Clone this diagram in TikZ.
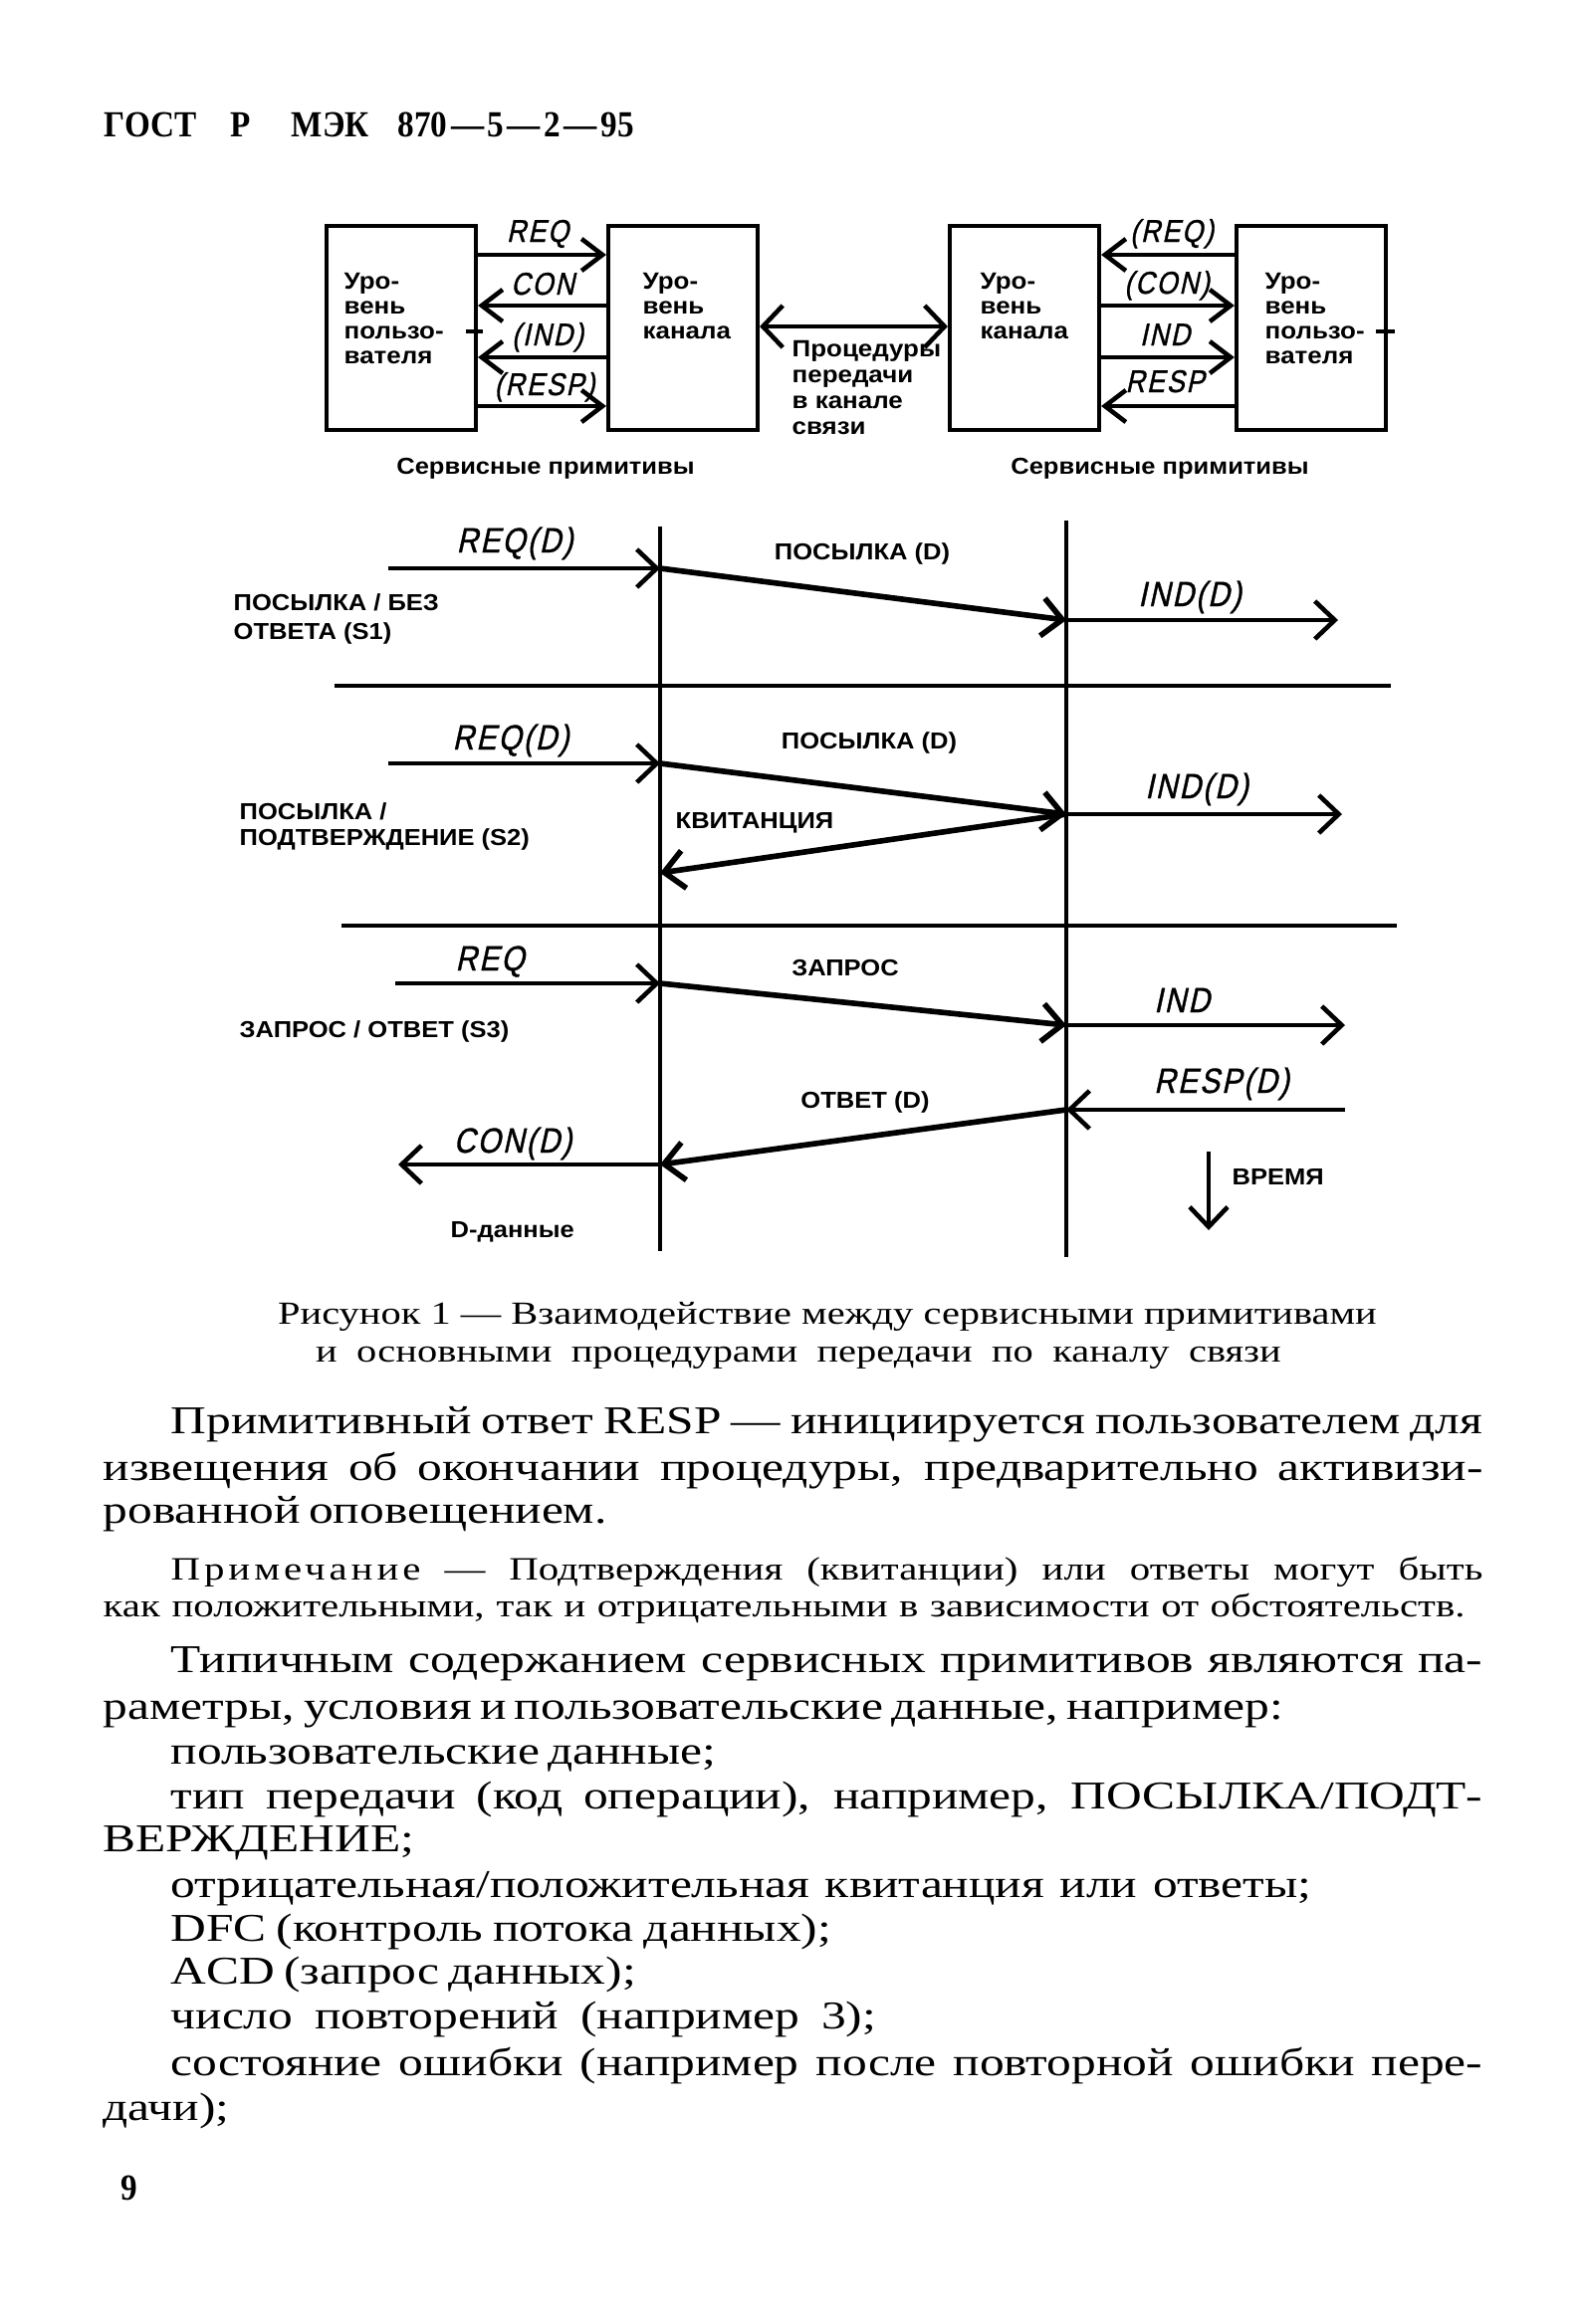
\documentclass[tikz,border=0pt]{standalone}
\usepackage{fontspec}
\setmainfont{Liberation Serif}
\newfontfamily\bodyf[FakeStretch=1.25]{Liberation Serif}
\newfontfamily\spacedf[FakeStretch=1.25,LetterSpace=12]{Liberation Serif}
\newfontfamily\titlef[FakeStretch=0.9]{Liberation Serif}
\newfontfamily\labf[FakeStretch=1.1]{Liberation Sans}
\newfontfamily\techf[FakeSlant=0.22,FakeStretch=0.85,FakeBold=1,LetterSpace=6]{Liberation Sans}
\usetikzlibrary{arrows.meta,calc}
\newcommand{\bodysz}{\fontsize{11.25pt}{12pt}\selectfont}
\newcommand{\notesz}{\fontsize{9.3pt}{10pt}\selectfont}
\newcommand{\capsz}{\fontsize{9.2pt}{10pt}\selectfont}
\newcommand{\jl}[2]{\makebox[#1][s]{#2}}
\begin{document}
\begin{tikzpicture}[x=0.01cm,y=-0.01cm,
  boxnode/.style={draw, line width=1.15pt, inner sep=0pt, minimum width=1.5cm, minimum height=2.05cm},
  conn/.style={line width=1.3pt, -{Straight Barb[length=0.21cm,width=0.32cm]}},
  dconn/.style={line width=1.3pt, {Straight Barb[length=0.2cm,width=0.42cm]}-{Straight Barb[length=0.2cm,width=0.42cm]}},
  tickmark/.style={line width=1.1pt},
  life/.style={line width=1.0pt},
  sarrow/.style={line width=1.3pt, -{Straight Barb[length=0.2cm,width=0.38cm]}},
  darrow/.style={line width=1.6pt, -{Straight Barb[length=0.2cm,width=0.38cm]}},
  sepline/.style={line width=1.4pt},
  bt/.style={anchor=base west, inner sep=0pt, font=\labf\bfseries\fontsize{6.7pt}{7pt}\selectfont},
  lt/.style={anchor=base west, inner sep=0pt, font=\labf\bfseries\fontsize{6.6pt}{7pt}\selectfont},
  ltc/.style={anchor=base, inner sep=0pt, font=\labf\bfseries\fontsize{6.6pt}{7pt}\selectfont},
  tls/.style={anchor=base, inner sep=0pt, font=\techf\fontsize{9pt}{10pt}\selectfont},
  tl/.style={anchor=base, inner sep=0pt, font=\techf\fontsize{10pt}{11pt}\selectfont},
  ttl/.style={anchor=base west, inner sep=0pt, font=\titlef\bfseries\fontsize{10.5pt}{11pt}\selectfont},
  body/.style={anchor=base west, inner sep=0pt, font=\bodyf\bodysz},
  note/.style={anchor=base west, inner sep=0pt, font=\bodyf\notesz},
  capt/.style={anchor=base, inner sep=0pt, font=\bodyf\capsz}
]
\fill[white] (0,0) rectangle (1588,2335);
\useasboundingbox (0,0) rectangle (1588,2335);

% ---- header
\node[ttl] (h1) at (104,137) {ГОСТ};
\node[ttl] (h2) at (231,137) {Р};
\node[ttl] (h3) at (292,137) {МЭК};
\node[ttl] (h4) at (399,137) {870\kern1pt—\kern1pt5\kern1pt—\kern1pt2\kern1pt—\kern1pt95};

% ---- top block diagram
\node[boxnode] (uL) at (403,329.5) {};
\node[boxnode] (cL) at (686,329.5) {};
\node[boxnode] (cR) at (1029,329.5) {};
\node[boxnode] (uR) at (1317,329.5) {};

\node[bt] (uLa) at (345,290) {Уро-};
\node[bt] (uLb) at (345,315) {вень};
\node[bt] (uLc) at (345,340) {пользо-};
\node[bt] (uLd) at (345,365) {вателя};
\node[bt] (cLa) at (645,290) {Уро-};
\node[bt] (cLb) at (645,315) {вень};
\node[bt] (cLc) at (645,340) {канала};
\node[bt] (cRa) at (984,290) {Уро-};
\node[bt] (cRb) at (984,315) {вень};
\node[bt] (cRc) at (984,340) {канала};
\node[bt] (uRa) at (1270,290) {Уро-};
\node[bt] (uRb) at (1270,315) {вень};
\node[bt] (uRc) at (1270,340) {пользо-};
\node[bt] (uRd) at (1270,365) {вателя};

\node[bt] (pr1) at (795,358) {Процедуры};
\node[bt] (pr2) at (795,384) {передачи};
\node[bt] (pr3) at (795,410) {в канале};
\node[bt] (pr4) at (795,436) {связи};

\coordinate (r1) at (0,256);
\coordinate (r2) at (0,307);
\coordinate (r3) at (0,359);
\coordinate (r4) at (0,408);
\coordinate (rm) at (0,328);
\coordinate (tk) at (0,333);

\draw[conn] (uL.east |- r1) -- (cL.west |- r1);
\draw[conn] (cL.west |- r2) -- (uL.east |- r2);
\draw[conn] (cL.west |- r3) -- (uL.east |- r3);
\draw[conn] (uL.east |- r4) -- (cL.west |- r4);
\draw[conn] (uR.west |- r1) -- (cR.east |- r1);
\draw[conn] (cR.east |- r2) -- (uR.west |- r2);
\draw[conn] (cR.east |- r3) -- (uR.west |- r3);
\draw[conn] (uR.west |- r4) -- (cR.east |- r4);
\draw[dconn] (cL.east |- rm) -- (cR.west |- rm);

\draw[tickmark] ($(uL.east |- tk)+(-12,0)$) -- ($(uL.east |- tk)+(5,0)$);
\draw[tickmark] ($(uR.east |- tk)+(-12,0)$) -- ($(uR.east |- tk)+(7,0)$);

\node[tls] (lREQ) at (540,243) {REQ};
\node[tls] (lCON) at (545,296) {CON};
\node[tls] (lIND) at (550,347) {(IND)};
\node[tls] (lRESP) at (547,397) {(RESP)};
\node[tls] (rREQ) at (1177,243) {(REQ)};
\node[tls] (rCON) at (1172,295) {(CON)};
\node[tls] (rIND) at (1170,347) {IND};
\node[tls] (rRESP) at (1170,394) {RESP};

\node[ltc] (sp1) at (548,476) {Сервисные примитивы};
\node[ltc] (sp2) at (1165,476) {Сервисные примитивы};

% ---- sequence diagram
\coordinate (L1t) at (663,529);
\coordinate (L1b) at (663,1257);
\coordinate (L2t) at (1071,523);
\coordinate (L2b) at (1071,1263);
\draw[life] (L1t) -- (L1b);
\draw[life] (L2t) -- (L2b);

% S1
\coordinate (a1) at (390,571);
\coordinate (b1) at (663,571);
\coordinate (c1) at (1071,623);
\coordinate (d1) at (1344,623);
\draw[sarrow] (a1) -- (b1);
\draw[darrow] (b1) -- (c1);
\draw[sarrow] (c1) -- (d1);
\node[tl] (q1) at (517,555) {REQ(D)};
\node[ltc] (p1) at (866,562) {ПОСЫЛКА (D)};
\node[tl] (i1) at (1195,609) {IND(D)};
\node[lt] (s1a) at (234,613) {ПОСЫЛКА / БЕЗ};
\node[lt] (s1b) at (234,642) {ОТВЕТА (S1)};
\coordinate (e1a) at (336,689);
\coordinate (e1b) at (1397,689);
\draw[sepline] (e1a) -- (e1b);

% S2
\coordinate (a2) at (390,767);
\coordinate (b2) at (663,767);
\coordinate (c2) at (1071,818);
\coordinate (d2) at (1348,818);
\coordinate (f2) at (663,877);
\draw[sarrow] (a2) -- (b2);
\draw[darrow] (b2) -- (c2);
\draw[sarrow] (c2) -- (d2);
\draw[darrow] (c2) -- (f2);
\node[tl] (q2) at (513,753) {REQ(D)};
\node[ltc] (p2) at (873,752) {ПОСЫЛКА (D)};
\node[tl] (i2) at (1202,802) {IND(D)};
\node[lt] (kv) at (678,832) {КВИТАНЦИЯ};
\node[lt] (s2a) at (240,823) {ПОСЫЛКА /};
\node[lt] (s2b) at (240,849) {ПОДТВЕРЖДЕНИЕ (S2)};
\coordinate (e2a) at (343,930);
\coordinate (e2b) at (1403,930);
\draw[sepline] (e2a) -- (e2b);

% S3
\coordinate (a3) at (397,988);
\coordinate (b3) at (663,988);
\coordinate (c3) at (1071,1030);
\coordinate (d3) at (1351,1030);
\coordinate (g3) at (1351,1115);
\coordinate (h3) at (1071,1115);
\coordinate (k3) at (663,1170);
\coordinate (m3) at (400,1170);
\draw[sarrow] (a3) -- (b3);
\draw[darrow] (b3) -- (c3);
\draw[sarrow] (c3) -- (d3);
\draw[sarrow] (g3) -- (h3);
\draw[darrow] (h3) -- (k3);
\draw[sarrow] (k3) -- (m3);
\node[tl] (q3) at (492,975) {REQ};
\node[ltc] (zp) at (849,980) {ЗАПРОС};
\node[tl] (i3) at (1187,1017) {IND};
\node[lt] (s3a) at (240,1042) {ЗАПРОС / ОТВЕТ (S3)};
\node[tl] (rs) at (1227,1098) {RESP(D)};
\node[ltc] (ot) at (869,1113) {ОТВЕТ (D)};
\node[tl] (cn) at (515,1158) {CON(D)};
\coordinate (t1) at (1214,1157);
\coordinate (t2) at (1214,1236);
\draw[sarrow] (t1) -- (t2);
\node[lt] (vr) at (1237,1190) {ВРЕМЯ};
\node[lt] (dd) at (452,1243) {D-данные};

% ---- caption
\node[capt] (cap1) at (831,1330) {\jl{11.03cm}{Рисунок 1 — Взаимодействие между сервисными примитивами}};
\node[capt] (cap2) at (802,1368) {\jl{9.69cm}{и основными процедурами передачи по каналу связи}};

% ---- body text
\node[body] (b01) at (171,1440) {\jl{13.17cm}{Примитивный ответ RESP — инициируется пользователем для}};
\node[body] (b02) at (103,1487) {\jl{13.85cm}{извещения об окончании процедуры, предварительно активизи-}};
\node[body] (b03) at (103,1530) {\jl{4.90cm}{рованной оповещением.}};
\node[note] (n01) at (171,1587) {\jl{13.17cm}{{\spacedf\notesz Примечание} — Подтверждения (квитанции) или ответы могут быть}};
\node[note] (n02) at (103,1624) {\jl{13.67cm}{как положительными, так и отрицательными в зависимости от обстоятельств.}};
\node[body] (t01) at (171,1680) {\jl{13.17cm}{Типичным содержанием сервисных примитивов являются па-}};
\node[body] (t02) at (103,1727) {\jl{11.75cm}{раметры, условия и пользовательские данные, например:}};
\node[body] (t03) at (171,1772) {\jl{5.29cm}{пользовательские данные;}};
\node[body] (t04) at (171,1817) {\jl{13.17cm}{тип передачи (код операции), например, ПОСЫЛКА/ПОДТ-}};
\node[body] (t05) at (103,1860) {ВЕРЖДЕНИЕ;};
\node[body] (t06) at (171,1906) {\jl{11.45cm}{отрицательная/положительная квитанция или ответы;}};
\node[body] (t07) at (171,1950) {\jl{6.63cm}{DFC (контроль потока данных);}};
\node[body] (t08) at (171,1993) {\jl{4.67cm}{ACD (запрос данных);}};
\node[body] (t09) at (171,2038) {\jl{7.08cm}{число повторений (например 3);}};
\node[body] (t10) at (171,2085) {\jl{13.17cm}{состояние ошибки (например после повторной ошибки пере-}};
\node[body] (t11) at (103,2130) {дачи);};
\node[ttl] (pg) at (121,2210) {9};
\end{tikzpicture}
\end{document}
